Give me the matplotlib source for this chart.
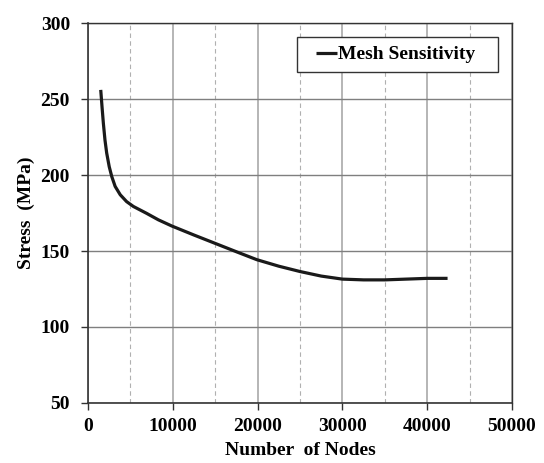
import matplotlib.pyplot as plt
from matplotlib.legend_handler import HandlerLine2D
from matplotlib.ticker import MultipleLocator

# number of nodes vs. peak stress from the mesh study
nodes = [1500, 1650, 1810, 2000, 2200, 2500, 2800, 3200, 3800, 4550, 5350,
         6900, 8300, 9900, 12500, 15000, 17500, 19900, 22500, 25000, 27500,
         30000, 32500, 35000, 37500, 40000, 42400]
stress = [256, 245, 234, 223, 214.5, 205.5, 199, 192.5, 187, 182.5, 179.3,
          174.8, 170.5, 166.4, 160.5, 155, 149.5, 144.3, 140, 136.5, 133.5,
          131.5, 131, 131, 131.5, 132, 132]


class InsetLine(HandlerLine2D):
    # legend line drawn only on the right part of the handle box,
    # leaving blank space between the frame and the line
    def create_artists(self, legend, orig_handle, xdescent, ydescent,
                       width, height, fontsize, trans):
        off = 0.5 * fontsize
        return super().create_artists(legend, orig_handle, xdescent - off,
                                      ydescent, width - off, height,
                                      fontsize, trans)


plt.rcParams['font.family'] = ['Liberation Serif', 'DejaVu Serif']
plt.rcParams['font.weight'] = 'bold'

fig = plt.figure(figsize=(5.44, 4.63), dpi=100)
ax = fig.add_axes([0.1618, 0.1296, 0.7794, 0.8207])

line, = ax.plot(nodes, stress, color='#1a1a1a', lw=2.3,
                label='Mesh Sensitivity', solid_capstyle='butt',
                solid_joinstyle='round', zorder=3)

ax.set_xlim(0, 50000)
ax.set_ylim(50, 300)
ax.xaxis.set_major_locator(MultipleLocator(10000))
ax.xaxis.set_minor_locator(MultipleLocator(5000))
ax.yaxis.set_major_locator(MultipleLocator(50))

ax.grid(axis='y', which='major', color='#7f7f7f', lw=1.0)
ax.grid(axis='x', which='major', color='#b5b5b5', lw=1.4)
ax.grid(axis='x', which='minor', color='#b0b0b0', lw=0.8, ls=(0, (4, 3)))
ax.set_axisbelow(True)

ax.tick_params(axis='both', which='major', direction='out', length=5,
               width=1, color='#333333', labelsize=14)
ax.tick_params(axis='x', which='major', pad=6)
ax.tick_params(axis='y', which='major', pad=8)
ax.tick_params(axis='x', which='minor', length=0)
for label in ax.get_xticklabels() + ax.get_yticklabels():
    label.set_fontweight('bold')

for side in ['left', 'bottom']:
    ax.spines[side].set_color('#333333')
    ax.spines[side].set_linewidth(1.2)
for side in ['top', 'right']:
    ax.spines[side].set_color('#333333')
    ax.spines[side].set_linewidth(1.0)

ax.set_xlabel('Number  of Nodes', fontsize=14, fontweight='bold', labelpad=5)
ax.set_ylabel('Stress  (MPa)', fontsize=14, fontweight='bold', labelpad=4)

leg = ax.legend(handles=[line], labels=['Mesh Sensitivity   '],
                handler_map={line: InsetLine()},
                loc='upper right', bbox_to_anchor=(0.968, 0.963),
                prop={'size': 14, 'weight': 'bold'}, handlelength=1.6,
                handletextpad=0.05, borderpad=0.45, fancybox=False,
                framealpha=1, edgecolor='#333333', borderaxespad=0)
leg.get_frame().set_linewidth(1.0)

fig.savefig('out.png', dpi=100)
